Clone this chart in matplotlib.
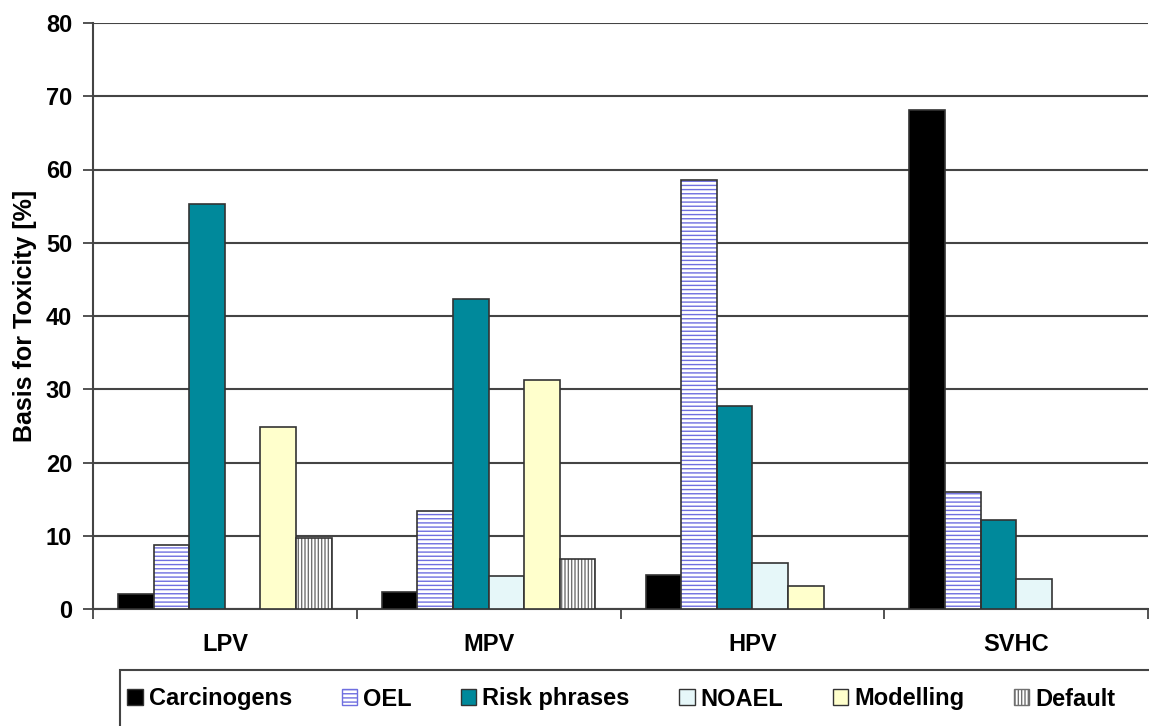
import numpy as np
import matplotlib
matplotlib.use("Agg")
import matplotlib.pyplot as plt
from matplotlib.patches import Patch, Rectangle

plt.rcParams["font.family"] = ["Liberation Sans", "DejaVu Sans"]
plt.rcParams["font.weight"] = "bold"
plt.rcParams["hatch.linewidth"] = 1.0

# data
groups = ["LPV", "MPV", "HPV", "SVHC"]
series = ["Carcinogens", "OEL", "Risk phrases", "NOAEL", "Modelling", "Default"]
carcinogens = [2.0, 2.3, 4.6, 68.1]
oel = [8.7, 13.4, 58.6, 16.0]
risk_phrases = [55.3, 42.3, 27.7, 12.1]
noael = [0.0, 4.5, 6.3, 4.1]
modelling = [24.8, 31.2, 3.1, 0.0]
default = [9.7, 6.8, 0.0, 0.0]
values = [carcinogens, oel, risk_phrases, noael, modelling, default]

# (face, hatch, hatch colour)
styles = [
    ("black", None, None),
    ("white", "----", "#6f6fe0"),
    ("#00899b", None, None),
    ("#e6f7f9", None, None),
    ("#ffffcc", None, None),
    ("white", "|||||", "#707070"),
]

fig = plt.figure(figsize=(11.49, 7.26), dpi=100)
ax = fig.add_axes([93 / 1149, 1 - 609 / 726, 1055 / 1149, 586 / 726])

x = np.arange(len(groups))
w = 0.135
for i, (vals, (fc, hatch, hc)) in enumerate(zip(values, styles)):
    pos = x - 2.5 * w + i * w
    h = np.array(vals)
    mask = h > 0
    if hatch:
        # hatch drawn in its own colour, outline added on top
        ax.bar(pos[mask], h[mask], width=w, color=fc, hatch=hatch,
               edgecolor=hc, linewidth=0, zorder=3)
        ax.bar(pos[mask], h[mask], width=w, color="none",
               edgecolor="#333333", linewidth=1.2, zorder=4)
    else:
        ax.bar(pos[mask], h[mask], width=w, color=fc,
               edgecolor="#333333", linewidth=1.2, zorder=3)

ax.set_xlim(-0.5, 3.5)
ax.set_ylim(0, 80)
ax.set_yticks(np.arange(0, 81, 10))
ax.grid(axis="y", color="#444444", linewidth=1.5, zorder=0)
ax.set_xticks(x)
ax.set_xticklabels(groups)
ax.set_xticks(np.arange(-0.5, 4, 1), minor=True)
ax.tick_params(axis="x", which="major", length=0, pad=17, labelsize=17)
ax.tick_params(axis="x", which="minor", length=7, width=1.3, color="#444444")
ax.tick_params(axis="y", length=7, width=1.3, color="#444444", labelsize=17, pad=8)
for s in ["top", "right"]:
    ax.spines[s].set_visible(False)
for s in ["left", "bottom"]:
    ax.spines[s].set_color("#444444")
    ax.spines[s].set_linewidth(1.5)
ax.set_ylabel("Basis for Toxicity [%]", fontsize=18, fontweight="bold", labelpad=6)

# legend along the bottom
handles = []
for name, (fc, hatch, hc) in zip(series, styles):
    handles.append(Patch(facecolor=fc, edgecolor=hc if hatch else "#333333",
                         hatch=hatch, linewidth=1.0, label=name))
fig.add_artist(Rectangle((120 / 1149, -0.01), 1.0, (726 - 670) / 726 + 0.01,
                         transform=fig.transFigure, facecolor="none",
                         edgecolor="#444444", linewidth=1.5))
fig.legend(handles=handles, loc="center left", ncol=6,
           bbox_to_anchor=(118 / 1149, (726 - 699) / 726),
           frameon=False, fontsize=17, handlelength=0.65, handleheight=0.65,
           handletextpad=0.25, columnspacing=2.1, borderaxespad=0)

fig.savefig("out.png", dpi=100)
